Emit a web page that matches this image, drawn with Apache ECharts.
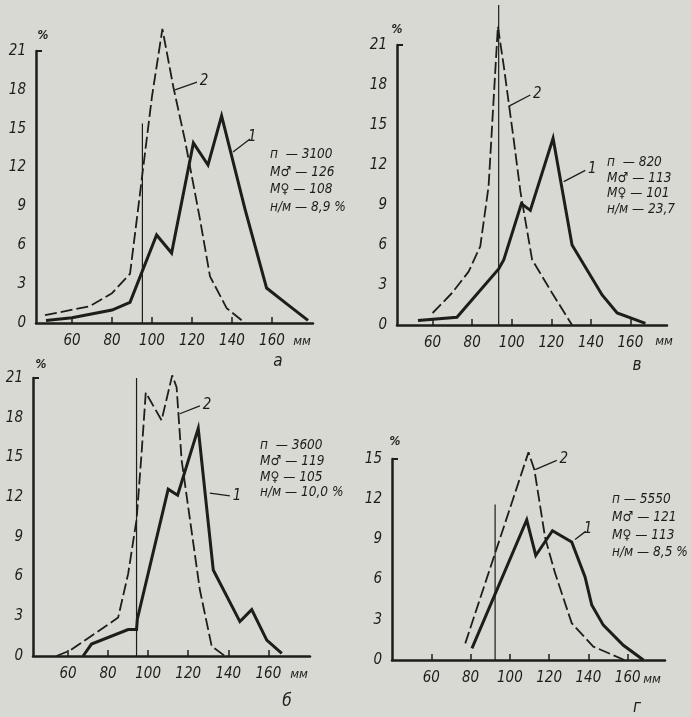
<!DOCTYPE html>
<html>
<head>
<meta charset="utf-8">
<script src="https://cdn.jsdelivr.net/npm/echarts@6/dist/echarts.min.js"></script>
<style>
  html, body { margin: 0; padding: 0; background: #d9d9d3; }
  #chart { width: 691px; height: 717px; }
</style>
</head>
<body>
<div id="chart"></div>
<script>
// длина, мм / доля, %
const xTicks = [60, 80, 100, 120, 140, 160]
const yTicks21 = [0, 3, 6, 9, 12, 15, 18, 21]
const yTicks15 = [0, 3, 6, 9, 12, 15]

// а
const aSolid = [[47, 0.2], [60, 0.4], [80, 1.0], [89, 1.6], [102.3, 6.8], [109.8, 5.4], [120.7, 13.9], [128, 12.2], [134.8, 16.0], [146.5, 8.8], [157.3, 2.7], [168, 1.4], [178, 0.2]]
const aDash = [[46.5, 0.6], [69, 1.3], [80, 2.3], [89, 3.8], [92, 7.5], [96, 12.5], [100, 17.5], [105.2, 22.7], [110.7, 18.2], [116.5, 14.1], [124, 8.0], [129, 3.6], [137.3, 1.15], [146.5, 0]]
const aVert = [[95.2, 0], [95.2, 15.4]]
const aStats = ['п  — 3100', 'M♂ — 126', 'M♀ — 108', 'н/м — 8,9 %']

// в
const vSolid = [[52.6, 0.33], [72.3, 0.58], [93.4, 4.2], [96, 4.9], [104.9, 9.1], [109.4, 8.6], [120.9, 14.0], [130.5, 6.0], [145.7, 2.25], [153.3, 0.9], [167.6, 0.12]]
const vDash = [[60, 0.9], [69.8, 2.4], [78.2, 4.0], [84.1, 5.9], [88.3, 10.4], [93, 22.4], [96, 19.4], [101, 13.9], [104.4, 10.0], [110.3, 4.9], [120.4, 2.4], [130.5, 0]]
const vVert = [[93.4, 0], [93.4, 24]]
const vStats = ['п  — 820', 'M♂ — 113', 'M♀ — 101', 'н/м — 23,7']

// б
const bSolid = [[67.5, 0], [71.7, 0.9], [90, 2.0], [94.2, 2.0], [94.6, 2.8], [110, 12.6], [114.7, 12.15], [125, 17.2], [132.5, 6.5], [145.8, 2.6], [151.7, 3.5], [159.2, 1.2], [166.7, 0.2]]
const bDash = [[54.2, 0], [60.8, 0.4], [85, 2.9], [90, 6.2], [94.2, 10.3], [96.7, 15.3], [98.8, 19.9], [106.7, 17.8], [112, 21.2], [114.2, 20.3], [116.7, 14.8], [125.8, 5.0], [131.7, 0.75], [138.3, 0]]
const bVert = [[94.2, 0], [94.2, 21]]
const bStats = ['п  — 3600', 'M♂ — 119', 'M♀ — 105', 'н/м — 10,0 %']

// г
const gSolid = [[80.7, 0.87], [108.6, 10.45], [113.2, 7.8], [121.7, 9.65], [131.5, 8.8], [138.3, 6.2], [141.7, 4.1], [147.6, 2.6], [157.8, 1.1], [168, 0]]
const gDash = [[77.3, 1.24], [109.5, 15.5], [112.5, 14.2], [118, 9.1], [123, 6.5], [131.5, 2.75], [142.5, 1.0], [158.3, 0]]
const gVert = [[92.5, 0], [92.5, 11.6]]
const gStats = ['п — 5550', 'M♂ — 121', 'M♀ — 113', 'н/м — 8,5 %']

// выноски "1", "2"
const leaders = [
  { s1: [[140.5, 13.2], [149, 14.2]], s2: [[111.5, 18.0], [122.5, 18.6]] },
  { s1: [[126.3, 10.75], [137.2, 11.6]], s2: [[98.4, 16.4], [109.4, 17.25]] },
  { s1: [[130.8, 12.3], [140.8, 12.1]], s2: [[115.8, 18.3], [125.8, 18.9]] },
  { s1: [[133.2, 9.0], [138.6, 9.6]], s2: [[112.9, 14.2], [123.9, 14.9]] }
]

const INK = '#1d1d1b'
const FONT = "'DejaVu Sans Condensed', 'Liberation Sans Narrow', 'DejaVu Sans', sans-serif"

const panels = [
  { grid: { left: 36, top: 51, width: 277, height: 272 }, xMin: 42, xMax: 180.5, yMax: 21, yTicks: yTicks21, solid: aSolid, dash: aDash, vert: aVert, stats: aStats, statsPos: [270, 146], lh: 17.5, letter: 'а', letterPos: [278, 362], mmPos: [302, 342], pctPos: [43, 36] },
  { grid: { left: 397, top: 45, width: 270, height: 280 }, xMin: 42, xMax: 178.5, yMax: 21, yTicks: yTicks21, solid: vSolid, dash: vDash, vert: vVert, stats: vStats, statsPos: [607, 155], lh: 15.5, letter: 'в', letterPos: [637, 366], mmPos: [664, 342], pctPos: [397, 30] },
  { grid: { left: 33, top: 378, width: 277, height: 278 }, xMin: 42.5, xMax: 180.8, yMax: 21, yTicks: yTicks21, solid: bSolid, dash: bDash, vert: bVert, stats: bStats, statsPos: [260, 438], lh: 15.7, letter: 'б', letterPos: [287, 702], mmPos: [299, 675], pctPos: [41, 365] },
  { grid: { left: 392, top: 459, width: 273, height: 201 }, xMin: 40, xMax: 179, yMax: 15, yTicks: yTicks15, solid: gSolid, dash: gDash, vert: gVert, stats: gStats, statsPos: [612, 491], lh: 17.7, letter: 'г', letterPos: [637, 708], mmPos: [652, 680], pctPos: [395, 442] }
]

function leaderLine(pts, txt) {
  return {
    silent: true,
    symbol: ['none', 'none'],
    animation: false,
    lineStyle: { type: 'solid', width: 1.3, color: INK },
    label: { show: true, position: 'end', formatter: txt, distance: 3, color: INK, fontFamily: FONT, fontStyle: 'italic', fontSize: 15 },
    data: [[{ coord: pts[0] }, { coord: pts[1] }]]
  }
}

const grids = [], xAxes = [], yAxes = [], series = [], graphics = []

panels.forEach((p, i) => {
  grids.push(p.grid)
  xAxes.push({
    type: 'value', gridIndex: i, min: p.xMin, max: p.xMax,
    axisLine: { show: true, onZero: false, lineStyle: { color: INK, width: 2.5 } },
    axisTick: { show: true, inside: true, length: 6, customValues: xTicks, lineStyle: { color: INK, width: 1.5 } },
    axisLabel: { customValues: xTicks, color: INK, fontFamily: FONT, fontStyle: 'italic', fontSize: 15, margin: 11 },
    splitLine: { show: false }
  })
  yAxes.push({
    type: 'value', gridIndex: i, min: 0, max: p.yMax, interval: 3,
    axisLine: { show: true, lineStyle: { color: INK, width: 2.5 } },
    axisTick: { show: true, inside: true, length: 6, customValues: [p.yMax], lineStyle: { color: INK, width: 2 } },
    axisLabel: { customValues: p.yTicks, color: INK, fontFamily: FONT, fontStyle: 'italic', fontSize: 15, margin: 10 },
    splitLine: { show: false }
  })
  series.push({
    type: 'line', xAxisIndex: i, yAxisIndex: i, data: p.solid, symbol: 'none', clip: false,
    lineStyle: { color: INK, width: 3, join: 'miter' },
    markLine: leaderLine(leaders[i].s1, '1')
  })
  series.push({
    type: 'line', xAxisIndex: i, yAxisIndex: i, data: p.dash, symbol: 'none', clip: false,
    lineStyle: { color: INK, width: 1.8, type: [12, 4] },
    markLine: leaderLine(leaders[i].s2, '2')
  })
  series.push({
    type: 'line', xAxisIndex: i, yAxisIndex: i, data: p.vert, symbol: 'none', clip: false,
    lineStyle: { color: INK, width: 1.2 }
  })

  graphics.push({
    type: 'text', x: p.statsPos[0], y: p.statsPos[1],
    style: { text: p.stats.join('\n'), fill: INK, font: 'italic 13.5px ' + FONT, lineHeight: p.lh, verticalAlign: 'top' }
  })
  graphics.push({
    type: 'text', x: p.letterPos[0], y: p.letterPos[1],
    style: { text: p.letter, fill: INK, font: 'italic 17px ' + FONT, align: 'center', verticalAlign: 'middle' }
  })
  graphics.push({
    type: 'text', x: p.mmPos[0], y: p.mmPos[1],
    style: { text: 'мм', fill: INK, font: 'italic 13px ' + FONT, align: 'center', verticalAlign: 'middle' }
  })
  graphics.push({
    type: 'text', x: p.pctPos[0], y: p.pctPos[1],
    style: { text: '%', fill: INK, font: 'italic bold 12px ' + FONT, align: 'center', verticalAlign: 'middle' }
  })
})

const chart = echarts.init(document.getElementById('chart'))
chart.setOption({
  backgroundColor: '#d9d9d3',
  animation: false,
  grid: grids,
  xAxis: xAxes,
  yAxis: yAxes,
  series: series,
  graphic: graphics
})
</script>
</body>
</html>
